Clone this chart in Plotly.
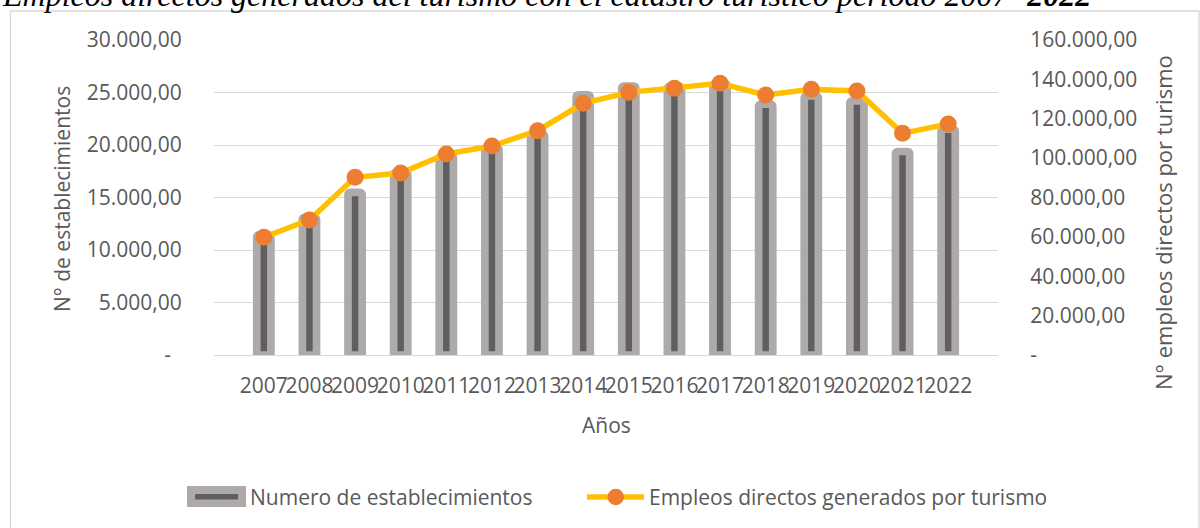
import plotly.graph_objects as go

# ---- data ----
years = ["2007", "2008", "2009", "2010", "2011", "2012", "2013", "2014",
         "2015", "2016", "2017", "2018", "2019", "2020", "2021", "2022"]
establecimientos = [11450, 13100, 15480, 17380, 18960, 19760, 21030, 24770,
                    25600, 25580, 25860, 23890, 24680, 24200, 19380, 21500]
empleos = [59800, 68600, 90250, 92450, 102100, 106150, 113950, 127850,
           133400, 135450, 138000, 132050, 134950, 134100, 112600, 117350]

left_tickvals = [0, 5000, 10000, 15000, 20000, 25000, 30000]
left_ticktext = ["-\u00a0\u00a0", "5.000,00", "10.000,00", "15.000,00",
                 "20.000,00", "25.000,00", "30.000,00"]
right_tickvals = [0, 20000, 40000, 60000, 80000, 100000, 120000, 140000, 160000]
right_ticktext = ["-", "20.000,00", "40.000,00", "60.000,00", "80.000,00",
                  "100.000,00", "120.000,00", "140.000,00", "160.000,00"]

title_text = "Empleos directos generados del turismo con el catastro turístico período 2007- <b>2022</b>"
bar_name = "Numero de establecimientos"
line_name = "Empleos directos generados por turismo"

# ---- layout geometry (pixels) ----
W, H = 1200, 528
PL, PR, PT, PB = 214, 998, 40, 355


def px(x):
    return (x - PL) / (PR - PL)


def py(y):
    return (PB - y) / (PB - PT)


FONT = "Open Sans"
FS = 21
TXT = "#595959"
GRAY = "#AEAAAA"
DARK = "#5F5F5F"
YELLOW = "#FFC000"
ORANGE = "#ED7D31"
GRID = "#D9D9D9"

fig = go.Figure()
fig.add_trace(go.Bar(
    x=years, y=establecimientos, name=bar_name, yaxis="y",
    width=0.31,
    marker=dict(color=DARK, line=dict(color=GRAY, width=7.7), cornerradius=2),
    showlegend=False,
))
fig.add_trace(go.Scatter(
    x=years, y=empleos, name=line_name, yaxis="y2", mode="lines+markers",
    line=dict(color=YELLOW, width=5.5),
    marker=dict(color=ORANGE, size=17),
    showlegend=False, cliponaxis=False,
))

shapes = [
    # chart border
    dict(type="rect", xref="paper", yref="paper",
         x0=px(10.5), x1=px(1199), y0=py(11), y1=py(560),
         line=dict(color=GRID, width=1.3), fillcolor="rgba(0,0,0,0)", layer="below"),
    # legend: bar symbol
    dict(type="rect", xref="paper", yref="paper",
         x0=px(187), x1=px(246), y0=py(486), y1=py(507),
         line=dict(width=0), fillcolor=GRAY),
    dict(type="rect", xref="paper", yref="paper",
         x0=px(195), x1=px(238), y0=py(494), y1=py(499.5),
         line=dict(width=0), fillcolor=DARK),
    # legend: line symbol
    dict(type="line", xref="paper", yref="paper",
         x0=px(587), x1=px(644), y0=py(497), y1=py(497),
         line=dict(color=YELLOW, width=5.5)),
    dict(type="circle", xref="paper", yref="paper",
         x0=px(607.5), x1=px(624), y0=py(488.8), y1=py(505.2),
         line=dict(width=0), fillcolor=ORANGE),
]

annotations = [
    dict(text=title_text, xref="paper", yref="paper", x=px(0), y=py(15),
         xanchor="left", yanchor="bottom", showarrow=False,
         font=dict(family="Liberation Serif", size=32, color="#000000", style="italic")),
    dict(text="N° de establecimientos", xref="paper", yref="paper",
         x=px(62), y=py(199), xanchor="center", yanchor="middle",
         textangle=-90, showarrow=False, font=dict(family=FONT, size=FS, color=TXT)),
    dict(text="N° empleos directos por turismo", xref="paper", yref="paper",
         x=px(1163), y=py(223), xanchor="center", yanchor="middle",
         textangle=-90, showarrow=False, font=dict(family=FONT, size=22, color=TXT)),
    dict(text="Años", xref="paper", yref="paper",
         x=px(606), y=py(425), xanchor="center", yanchor="middle",
         showarrow=False, font=dict(family=FONT, size=FS, color=TXT)),
    dict(text=bar_name, xref="paper", yref="paper",
         x=px(248), y=py(497), xanchor="left", yanchor="middle",
         showarrow=False, font=dict(family=FONT, size=FS, color=TXT)),
    dict(text=line_name, xref="paper", yref="paper",
         x=px(647), y=py(497), xanchor="left", yanchor="middle",
         showarrow=False, font=dict(family=FONT, size=FS, color=TXT)),
]

fig.update_layout(
    width=W, height=H, autosize=False,
    margin=dict(l=PL, r=W - PR, t=PT, b=H - PB, pad=0),
    paper_bgcolor="white", plot_bgcolor="white",
    font=dict(family=FONT, size=FS, color=TXT),
    bargap=0.5,
    xaxis=dict(type="category", showgrid=False, showline=True, linecolor=GRID,
               linewidth=1.3, ticks="outside", ticklen=12, tickcolor="rgba(0,0,0,0)",
               tickangle=0, automargin=False,
               tickfont=dict(family=FONT, size=FS, color=TXT)),
    yaxis=dict(range=[0, 30000], tickvals=left_tickvals, ticktext=left_ticktext,
               showgrid=True, gridcolor=GRID, gridwidth=1.3, zeroline=False,
               ticks="outside", ticklen=27, tickcolor="rgba(0,0,0,0)", automargin=False,
               tickfont=dict(family=FONT, size=FS, color=TXT)),
    yaxis2=dict(range=[0, 160000], tickvals=right_tickvals, ticktext=right_ticktext,
                overlaying="y", side="right", showgrid=False, zeroline=False,
                ticks="outside", ticklen=27, tickcolor="rgba(0,0,0,0)", automargin=False,
                tickfont=dict(family=FONT, size=FS, color=TXT)),
    shapes=shapes,
    annotations=annotations,
)

fig.write_html("out.html", config={"displayModeBar": False},
               post_script="document.body.style.margin='0';document.body.style.overflow='hidden';")
